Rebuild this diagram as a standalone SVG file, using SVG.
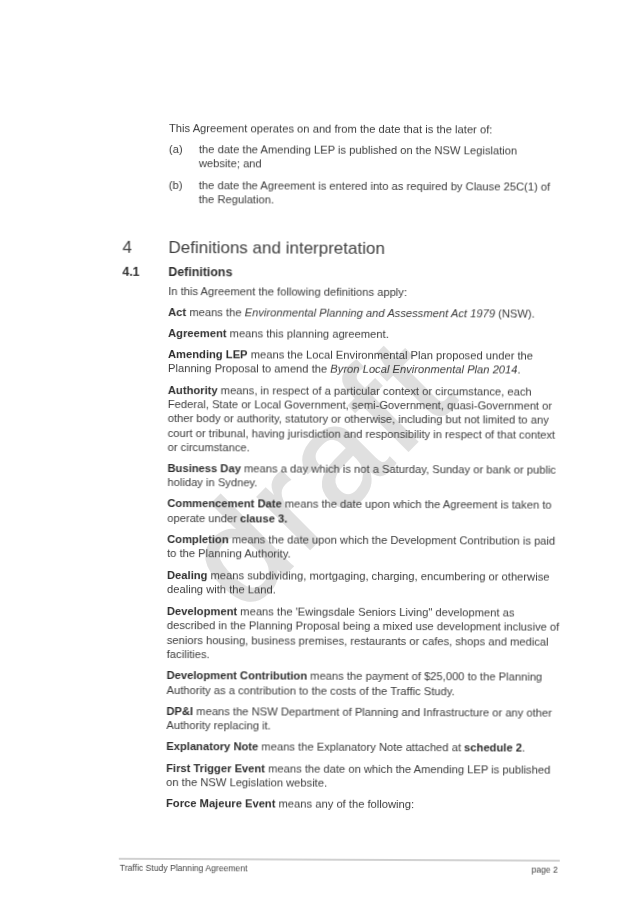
<svg xmlns="http://www.w3.org/2000/svg" width="637" height="901" viewBox="0 0 637 901">
<style>
text{font-family:"Liberation Sans",Arial,sans-serif;font-size:11.2px;fill:#3c3c3c}
.b{font-weight:700;fill:#2e2e2e}
.i{font-style:italic}
.h1{font-size:17px;fill:#404040}
.h2{font-size:12.4px;font-weight:700;fill:#2e2e2e}
.f{font-size:8.6px;fill:#444}
.wm{font-size:140px;letter-spacing:6px;fill:#e0e0e0;stroke:#e0e0e0;stroke-width:2}
</style>
<defs><filter id="scan" x="-2%" y="-2%" width="104%" height="104%"><feGaussianBlur stdDeviation="0.28"/></filter></defs>
<rect width="637" height="901" fill="#fff"/>
<text class="wm" x="244" y="615" transform="rotate(-45 244 615)">draft</text>
<g transform="rotate(0.25 168 130)" filter="url(#scan)">
<text x="169" y="131.7">This Agreement operates on and from the date that is the later of:</text>
<text x="169" y="153.3">(a)</text>
<text x="199" y="153.3">the date the Amending LEP is published on the NSW Legislation</text>
<text x="199" y="167.3">website; and</text>
<text x="169" y="188.7">(b)</text>
<text x="199" y="188.7">the date the Agreement is entered into as required by Clause 25C(1) of</text>
<text x="199" y="202.7">the Regulation.</text>
<text class="h1" x="123" y="252.7">4</text>
<text class="h1" x="169" y="252.7">Definitions and interpretation</text>
<text class="h2" x="123" y="275.7">4.1</text>
<text class="h2" x="169" y="275.7">Definitions</text>
<text x="169" y="295">In this Agreement the following definitions apply:</text>
<text x="169" y="315.7"><tspan class="b">Act</tspan> means the <tspan class="i">Environmental Planning and Assessment Act 1979</tspan> (NSW).</text>
<text x="169" y="336.7"><tspan class="b">Agreement</tspan> means this planning agreement.</text>
<text x="169" y="358.3"><tspan class="b">Amending LEP</tspan> means the Local Environmental Plan proposed under the</text>
<text x="169" y="372.3">Planning Proposal to amend the <tspan class="i">Byron Local Environmental Plan 2014</tspan>.</text>
<text x="169" y="394"><tspan class="b">Authority</tspan> means, in respect of a particular context or circumstance, each</text>
<text x="169" y="408">Federal, State or Local Government, semi-Government, quasi-Government or</text>
<text x="169" y="422.3">other body or authority, statutory or otherwise, including but not limited to any</text>
<text x="169" y="436.7">court or tribunal, having jurisdiction and responsibility in respect of that context</text>
<text x="169" y="450.7">or circumstance.</text>
<text x="169" y="472"><tspan class="b">Business Day</tspan> means a day which is not a Saturday, Sunday or bank or public</text>
<text x="169" y="486">holiday in Sydney.</text>
<text x="169" y="507.3"><tspan class="b">Commencement Date</tspan> means the date upon which the Agreement is taken to</text>
<text x="169" y="521.7">operate under <tspan class="b">clause 3.</tspan></text>
<text x="169" y="542.7"><tspan class="b">Completion</tspan> means the date upon which the Development Contribution is paid</text>
<text x="169" y="557.3">to the Planning Authority.</text>
<text x="169" y="578.7"><tspan class="b">Dealing</tspan> means subdividing, mortgaging, charging, encumbering or otherwise</text>
<text x="169" y="592.7">dealing with the Land.</text>
<text x="169" y="614.7"><tspan class="b">Development</tspan> means the 'Ewingsdale Seniors Living" development as</text>
<text x="169" y="629">described in the Planning Proposal being a mixed use development inclusive of</text>
<text x="169" y="643.7">seniors housing, business premises, restaurants or cafes, shops and medical</text>
<text x="169" y="657.7">facilities.</text>
<text x="169" y="679"><tspan class="b">Development Contribution</tspan> means the payment of $25,000 to the Planning</text>
<text x="169" y="693.7">Authority as a contribution to the costs of the Traffic Study.</text>
<text x="169" y="714.7"><tspan class="b">DP&amp;I</tspan> means the NSW Department of Planning and Infrastructure or any other</text>
<text x="169" y="729">Authority replacing it.</text>
<text x="169" y="750.3"><tspan class="b">Explanatory Note</tspan> means the Explanatory Note attached at <tspan class="b">schedule 2</tspan>.</text>
<text x="169" y="771.7"><tspan class="b">First Trigger Event</tspan> means the date on which the Amending LEP is published</text>
<text x="169" y="785.7">on the NSW Legislation website.</text>
<text x="169" y="806.7"><tspan class="b">Force Majeure Event</tspan> means any of the following:</text>
<line x1="122" y1="859" x2="563" y2="859" stroke="#999" stroke-width="0.9"/>
<text class="f" x="123" y="870.7">Traffic Study Planning Agreement</text>
<text class="f" x="561" y="870.7" text-anchor="end">page 2</text>
</g>
</svg>
